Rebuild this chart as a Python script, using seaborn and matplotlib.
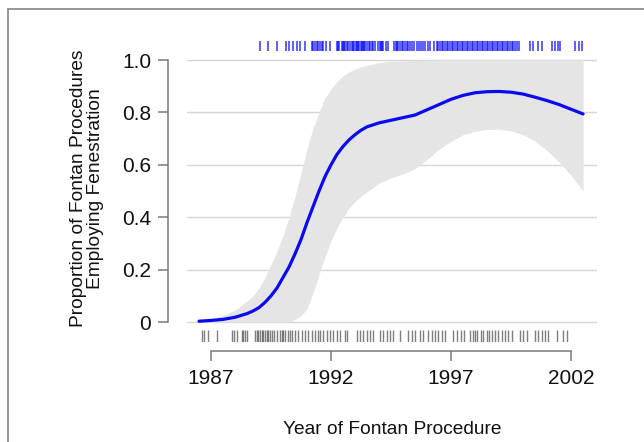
import numpy as np
import pandas as pd
import matplotlib
matplotlib.use("Agg")
import matplotlib.pyplot as plt
import seaborn as sns
from matplotlib.patches import Rectangle

# fitted proportion and confidence band
years = [1986.5, 1987.0, 1987.5, 1988.0, 1988.5, 1988.75, 1989.0, 1989.25, 1989.5,
         1989.75, 1990.0, 1990.25, 1990.5, 1990.75, 1991.0, 1991.25, 1991.5, 1991.75,
         1992.0, 1992.25, 1992.5, 1992.75, 1993.0, 1993.25, 1993.5,
         1994.0, 1994.5, 1995.0, 1995.5, 1996.0, 1996.5, 1997.0, 1997.5, 1998.0,
         1998.5, 1999.0, 1999.5, 2000.0, 2000.5, 2001.0, 2001.5, 2002.0, 2002.5]
fit = [0.003, 0.006, 0.010, 0.018, 0.032, 0.042, 0.055, 0.075, 0.10,
       0.13, 0.17, 0.21, 0.26, 0.315, 0.38, 0.44, 0.50, 0.555,
       0.60, 0.64, 0.67, 0.695, 0.715, 0.732, 0.745,
       0.76, 0.77, 0.78, 0.79, 0.81, 0.83, 0.85, 0.865, 0.875,
       0.879, 0.88, 0.877, 0.87, 0.858, 0.845, 0.83, 0.812, 0.794]
upper = [0.005, 0.012, 0.025, 0.045, 0.08, 0.10, 0.13, 0.17, 0.22,
         0.27, 0.33, 0.40, 0.48, 0.57, 0.66, 0.74, 0.80, 0.855,
         0.89, 0.918, 0.94, 0.955, 0.965, 0.974, 0.98,
         0.99, 0.995, 0.997, 0.998, 0.999, 1.0, 1.0, 1.0, 1.0,
         1.0, 1.0, 1.0, 1.0, 1.0, 1.0, 1.0, 1.0, 1.0]
lower = [0.0, 0.0, 0.0, 0.0, 0.0, 0.0, 0.0, 0.0, 0.0,
         0.0, 0.0, 0.0, 0.01, 0.025, 0.05, 0.11, 0.18, 0.25,
         0.31, 0.36, 0.40, 0.435, 0.46, 0.48, 0.497,
         0.53, 0.55, 0.565, 0.585, 0.62, 0.66, 0.69, 0.715, 0.728,
         0.735, 0.736, 0.73, 0.715, 0.69, 0.655, 0.61, 0.56, 0.50]

# procedure years with fenestration (top rug) and without (bottom rug)
fenestrated = [1989.04, 1989.39, 1989.74, 1990.13, 1990.26, 1990.43, 1990.57, 1990.71,
               1990.92, 1991.20, 1991.26, 1991.33, 1991.40, 1991.47, 1991.54, 1991.61,
               1991.68, 1991.79, 1991.96, 1992.26, 1992.30, 1992.35, 1992.45, 1992.50,
               1992.54, 1992.60, 1992.65, 1992.72, 1992.79, 1992.86, 1992.90, 1992.96,
               1993.02, 1993.07, 1993.12, 1993.18, 1993.23, 1993.28, 1993.33, 1993.37,
               1993.43, 1993.49, 1993.57, 1993.63, 1993.70, 1993.76, 1993.85, 1993.95,
               1994.02, 1994.08, 1994.13, 1994.18, 1994.27, 1994.36, 1994.64, 1994.69,
               1994.74, 1994.80, 1994.88, 1994.95, 1995.01, 1995.08, 1995.15, 1995.22,
               1995.29, 1995.36, 1995.46, 1995.57, 1995.66, 1995.75, 1995.83, 1995.92,
               1996.02, 1996.13, 1996.27, 1996.40, 1996.47, 1996.54, 1996.61, 1996.68,
               1996.75, 1996.82, 1996.89, 1996.96, 1997.03, 1997.10, 1997.17, 1997.24,
               1997.31, 1997.38, 1997.45, 1997.51, 1997.58, 1997.65, 1997.72, 1997.79,
               1997.86, 1997.93, 1998.00, 1998.07, 1998.14, 1998.21, 1998.28, 1998.35,
               1998.42, 1998.49, 1998.55, 1998.62, 1998.70, 1998.76, 1998.83, 1998.90,
               1998.97, 1999.04, 1999.11, 1999.18, 1999.25, 1999.32, 1999.39, 1999.46,
               1999.53, 1999.60, 1999.67, 1999.74, 1999.81, 2000.29, 2000.43, 2000.64,
               2000.78, 2001.20, 2001.33, 2001.47, 2001.54, 2002.17, 2002.31, 2002.44]
not_fenestrated = [1986.61, 1986.72, 1986.89, 1987.24, 1987.86, 1987.97, 1988.07, 1988.28,
                   1988.35, 1988.42, 1988.49, 1988.83, 1988.90, 1988.97, 1989.04, 1989.11,
                   1989.18, 1989.25, 1989.32, 1989.39, 1989.46, 1989.53, 1989.64, 1989.74,
                   1989.88, 1989.95, 1990.01, 1990.08, 1990.20, 1990.29, 1990.39, 1990.50,
                   1990.64, 1990.78, 1990.92, 1991.05, 1991.20, 1991.33, 1991.47, 1991.54,
                   1991.68, 1991.82, 1991.96, 1992.10, 1992.24, 1992.38, 1992.58, 1992.65,
                   1993.07, 1993.21, 1993.35, 1993.49, 1993.63, 1993.76, 1994.04, 1994.18,
                   1994.32, 1994.46, 1994.60, 1994.88, 1995.22, 1995.36, 1995.50, 1995.71,
                   1995.85, 1996.05, 1996.20, 1996.33, 1996.47, 1996.61, 1996.75, 1997.10,
                   1997.24, 1997.40, 1997.54, 1997.79, 1997.90, 1998.00, 1998.10, 1998.24,
                   1998.35, 1998.49, 1998.60, 1998.70, 1998.83, 1998.97, 1999.11, 1999.25,
                   1999.39, 1999.53, 1999.88, 2000.01, 2000.15, 2000.50, 2000.64, 2000.78,
                   2000.92, 2001.05, 2001.40, 2001.65, 2001.82]

x_ticks = [1987, 1992, 1997, 2002]
y_ticks = [0, 0.2, 0.4, 0.6, 0.8, 1.0]
y_tick_labels = ["0", "0.2", "0.4", "0.6", "0.8", "1.0"]

df = pd.DataFrame({"year": years, "fit": fit, "lower": lower, "upper": upper})

sns.set_style("white")
plt.rcParams["font.family"] = ["Liberation Sans", "DejaVu Sans"]

fig = plt.figure(figsize=(6.44, 4.42), dpi=100)
ax = fig.add_axes([187 / 644, 100 / 442, 410 / 644, 307 / 442])

# frame around the figure (only left/top edges show)
fig.patches.append(Rectangle((8 / 644, -0.1), 1.2, 1.1 - 9 / 442,
                             transform=fig.transFigure, fill=False,
                             edgecolor="#8f8f8f", lw=1.3, zorder=0))

for yv in y_ticks:
    ax.axhline(yv, color="#d6d6d6", lw=1.0, zorder=0)

ax.fill_between(df["year"], df["lower"], df["upper"], color="#e5e5e5", lw=0, zorder=1)
sns.lineplot(data=df, x="year", y="fit", color="#0a0aee", lw=2.3, ax=ax, zorder=3)

# rugs
ax.vlines(fenestrated, 1.035, 1.072, color="#0000ff", alpha=0.8, lw=1.1)
sns.rugplot(x=not_fenestrated, height=12 / 307, color="#2a2a2a", alpha=0.6, lw=1.3, ax=ax)

ax.set_xlim(1986.0, 2003.08)
ax.set_ylim(-20 / 262, 1 + 25 / 262)

for s in ["top", "right"]:
    ax.spines[s].set_visible(False)
ax.spines["left"].set_position(("outward", 19 * 0.72))
ax.spines["left"].set_bounds(0, 1)
ax.spines["bottom"].set_position(("outward", 9 * 0.72))
ax.spines["bottom"].set_bounds(1987, 2002)
for s in ["left", "bottom"]:
    ax.spines[s].set_color("#7a7a7a")
    ax.spines[s].set_linewidth(1.1)

ax.set_xticks(x_ticks)
ax.set_xticklabels([str(v) for v in x_ticks])
ax.set_yticks(y_ticks)
ax.set_yticklabels(y_tick_labels)
ax.tick_params(axis="both", length=7, width=1.1, color="#7a7a7a", labelsize=15,
               labelcolor="#111111", direction="out", left=True, bottom=True)
ax.tick_params(axis="y", pad=5)
ax.tick_params(axis="x", pad=6)

ax.set_xlabel("Year of Fontan Procedure", fontsize=13.8, labelpad=24, color="#111111")
ax.set_ylabel("Proportion of Fontan Procedures\nEmploying Fenestration", fontsize=13.8,
              labelpad=13, color="#111111", linespacing=1.0)

fig.savefig("out.png", dpi=100)
